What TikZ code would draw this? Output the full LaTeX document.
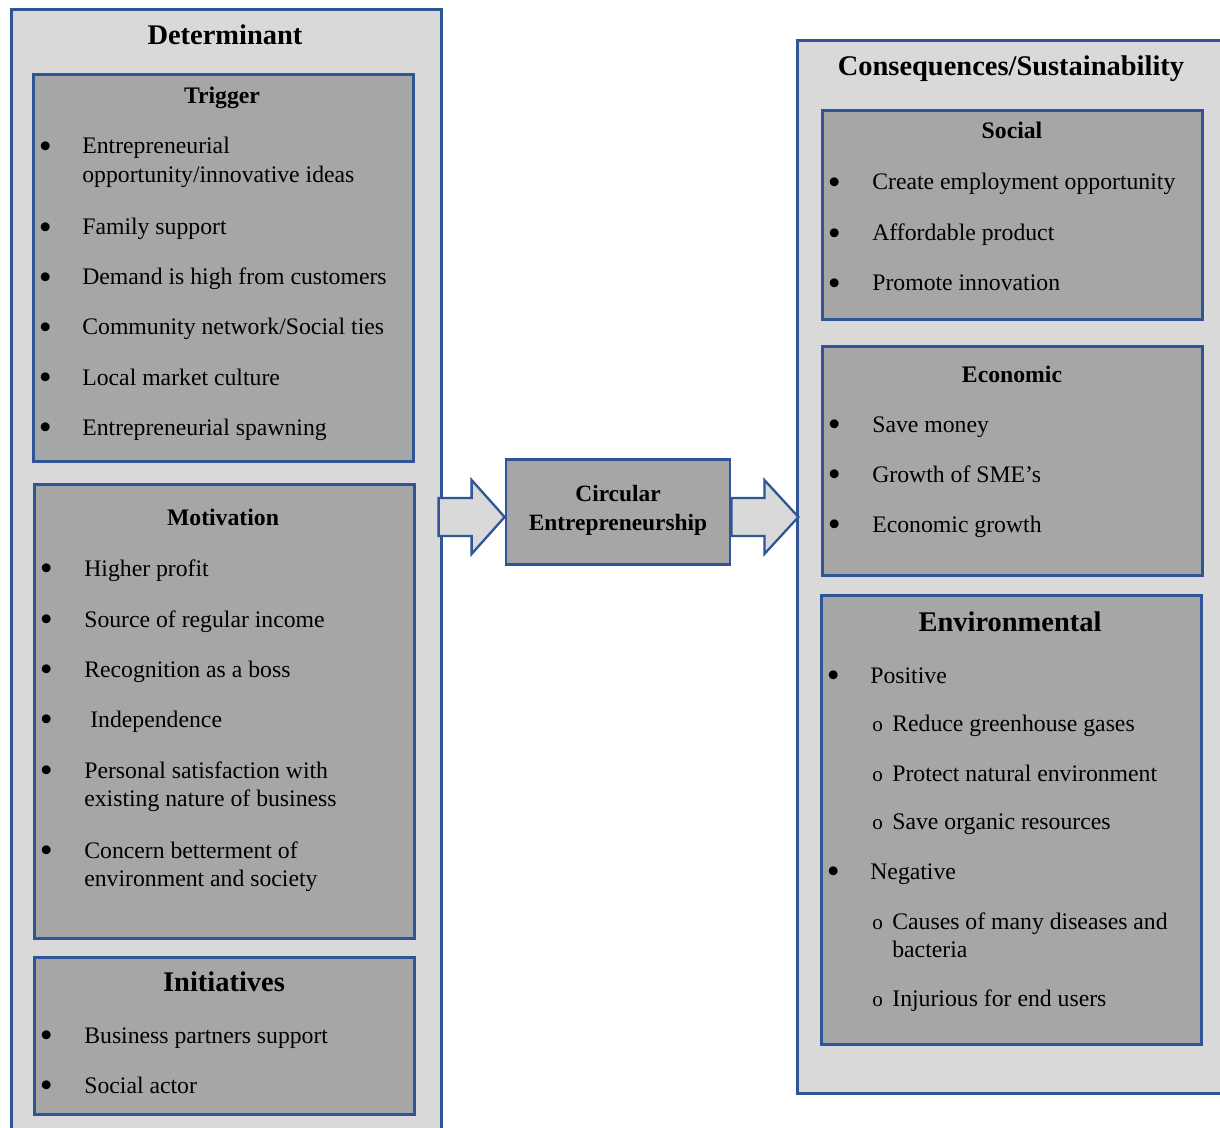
\documentclass[tikz,border=0pt]{standalone}
\usepackage{fontspec}
\setmainfont{Liberation Serif}
\usepackage{tikz}
\usepackage{xcolor}
\definecolor{boxblue}{HTML}{2F5597}
\definecolor{lightgrey}{HTML}{D9D9D9}
\definecolor{darkgrey}{HTML}{A6A6A6}
\newcommand{\bigdot}{\raisebox{-2.6pt}{\fontsize{21}{21}\selectfont\textbullet}}
\newcommand{\bulitem}[2][0.82cm]{\makebox[#1][l]{\hspace{-0.05cm}\bigdot}\begin{tabular}[t]{@{}l@{}}#2\end{tabular}}
\newcommand{\subbulitem}[1]{\makebox[0.4cm][l]{\fontsize{12}{12}\selectfont o}\begin{tabular}[t]{@{}l@{}}#1\end{tabular}}
\tikzset{
    outer-box/.style = {draw=boxblue, fill=lightgrey, line width=1.6pt, rectangle, anchor=north west, inner sep=0pt},
    inner-box/.style = {draw=boxblue, fill=darkgrey, line width=1.6pt, rectangle, anchor=north west, inner sep=0pt},
    box-title/.style = {anchor=base, inner sep=0pt, font=\bfseries\fontsize{13.5}{16.5}\selectfont},
    big-title/.style = {anchor=base, inner sep=0pt, font=\bfseries\fontsize{16.2}{19.5}\selectfont},
    item/.style = {anchor=base west, inner sep=0pt, font=\fontsize{13.5}{16.5}\selectfont},
    block-arrow/.style = {draw=boxblue, fill=lightgrey, line width=1.3pt, line join=miter},
}

\begin{document}
\begin{tikzpicture}[x=0.02cm, y=-0.02cm]
\clip (0,0) rectangle (1220,1128);
\fill[white] (0,0) rectangle (1220,1128);

\node[outer-box, minimum width=8.6cm, minimum height=22.8cm] (det) at (10,8) {};
\node[big-title] (det-title) at (225,45) {Determinant};

\node[inner-box, minimum width=7.6cm, minimum height=7.74cm] (trigger) at (32,73) {};
\node[box-title] (trigger-title) at (222,104) {Trigger};
\node[item] (t1) at (41,154) {\bulitem{Entrepreneurial\\opportunity/innovative ideas}};
\node[item] (t2) at (41,235) {\bulitem{Family support}};
\node[item] (t3) at (41,285) {\bulitem{Demand is high from customers}};
\node[item] (t4) at (41,335) {\bulitem{Community network/Social ties}};
\node[item] (t5) at (41,385) {\bulitem{Local market culture}};
\node[item] (t6) at (41,435) {\bulitem{Entrepreneurial spawning}};

\node[inner-box, minimum width=7.6cm, minimum height=9.08cm] (motiv) at (33,483) {};
\node[box-title] (motiv-title) at (223,525) {Motivation};
\node[item] (m1) at (42,576) {\bulitem[0.84cm]{Higher profit}};
\node[item] (m2) at (42,627) {\bulitem[0.84cm]{Source of regular income}};
\node[item] (m3) at (42,677) {\bulitem[0.84cm]{Recognition as a boss}};
\node[item] (m4) at (42,727) {\bulitem[0.96cm]{Independence}};
\node[item] (m5) at (42,778) {\bulitem[0.84cm]{Personal satisfaction with\\existing nature of business}};
\node[item] (m6) at (42,858) {\bulitem[0.84cm]{Concern betterment of\\environment and society}};

\node[inner-box, minimum width=7.6cm, minimum height=3.14cm] (init) at (33,956) {};
\node[big-title] (init-title) at (224,991) {Initiatives};
\node[item] (i1) at (42,1043) {\bulitem[0.84cm]{Business partners support}};
\node[item] (i2) at (42,1093) {\bulitem[0.84cm]{Social actor}};

\node[outer-box, minimum width=9cm, minimum height=21.06cm] (cons) at (796,39) {};
\node[big-title] (cons-title) at (1011,76) {Consequences/Sustainability};

\node[inner-box, minimum width=7.6cm, minimum height=4.18cm] (social) at (821,109) {};
\node[box-title] (social-title) at (1012,139) {Social};
\node[item] (s1) at (830,190) {\bulitem[0.84cm]{Create employment opportunity}};
\node[item] (s2) at (830,241) {\bulitem[0.84cm]{Affordable product}};
\node[item] (s3) at (830,291) {\bulitem[0.84cm]{Promote innovation}};

\node[inner-box, minimum width=7.6cm, minimum height=4.58cm] (econ) at (821,345) {};
\node[box-title] (econ-title) at (1012,382) {Economic};
\node[item] (e1) at (830,432) {\bulitem[0.84cm]{Save money}};
\node[item] (e2) at (830,482) {\bulitem[0.84cm]{Growth of SME’s}};
\node[item] (e3) at (830,532) {\bulitem[0.84cm]{Economic growth}};

\node[inner-box, minimum width=7.6cm, minimum height=8.98cm] (env) at (820,594) {};
\node[big-title] (env-title) at (1010,631) {Environmental};
\node[item] (n1) at (829,683) {\bulitem{Positive}};
\node[item] (n2) at (872,731) {\subbulitem{Reduce greenhouse gases}};
\node[item] (n3) at (872,781) {\subbulitem{Protect natural environment}};
\node[item] (n4) at (872,829) {\subbulitem{Save organic resources}};
\node[item] (n5) at (829,879) {\bulitem{Negative}};
\node[item] (n6) at (872,929) {\subbulitem{Causes of many diseases and\\bacteria}};
\node[item] (n7) at (872,1006) {\subbulitem{Injurious for end users}};

\node[inner-box, anchor=center, minimum width=4.48cm, minimum height=2.1cm, align=center, font=\bfseries\fontsize{13.3}{16.5}\selectfont] (ce) at (618,512) {Circular\\Entrepreneurship\\[-12pt]};

\draw[block-arrow] (ce.west) ++(0,5) -- ++(-33,-37) -- ++(0,18) -- ++(-33,0) -- ++(0,38) -- ++(33,0) -- ++(0,18) -- cycle;
\draw[block-arrow] (ce.east) ++(0,5) -- ++(0,-19) -- ++(33,0) -- ++(0,-18) -- ++(34,37) -- ++(-34,37) -- ++(0,-18) -- ++(-33,0) -- cycle;
\end{tikzpicture}
\end{document}
